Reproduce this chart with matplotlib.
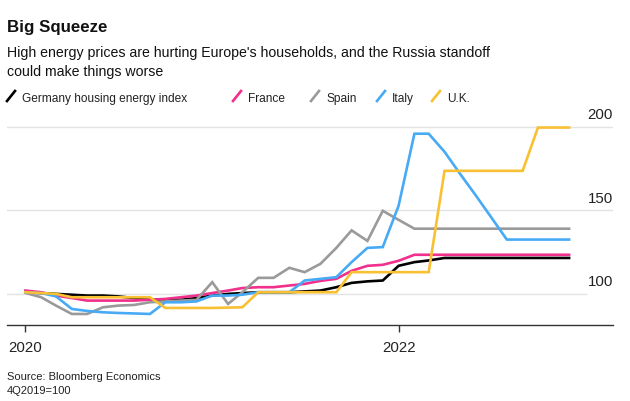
import pandas as pd
import matplotlib
matplotlib.use("Agg")
import matplotlib.pyplot as plt
from matplotlib.lines import Line2D

plt.rcParams['font.family'] = ['Liberation Sans', 'DejaVu Sans']

# Monthly index values, Jan 2020 - Dec 2022 (4Q2019=100)
months = pd.date_range("2020-01-01", periods=36, freq="MS")

germany = [101, 100.5, 100, 99.5, 99, 99, 98.5, 97.5, 96.5, 96.5, 96.5, 97.5,
           99, 100, 100.5, 101, 101, 101, 101.5, 102, 104, 106.6, 107.5, 108,
           116.8, 119, 120, 121.5, 121.5, 121.5, 121.5, 121.5, 121.5, 121.5, 121.5, 121.5]
france = [102, 101, 99, 97.5, 96, 96, 96, 96, 96.5, 97, 98, 99,
          100.5, 102, 103.5, 104, 104, 105, 106, 107.8, 109, 113.8, 116.8, 117.4,
          119.8, 123.4, 123.4, 123.4, 123.4, 123.4, 123.4, 123.4, 123.4, 123.4, 123.4, 123.4]
spain = [100.6, 98, 93, 88, 88, 92, 93, 93.4, 95, 95.5, 96, 96.4,
         107, 94, 101, 109.6, 109.6, 115.6, 113, 118, 127.5, 138, 131.7, 149.7,
         144.3, 139, 139, 139, 139, 139, 139, 139, 139, 139, 139, 139]
italy = [101, 100.5, 98.5, 91, 89.8, 89, 88.6, 88.3, 88, 95, 95, 95.5,
         99, 99, 99.5, 101, 101, 101, 108, 109, 110, 119, 127.5, 128,
         152.7, 195.8, 195.8, 185, 172, 159, 146, 132.5, 132.5, 132.5, 132.5, 132.5]
uk = [101, 100.5, 100, 98, 98, 98, 98, 98, 98, 91.6, 91.6, 91.6,
      91.6, 91.8, 92, 101, 101, 101, 101, 101, 101, 113, 113, 113,
      113, 113, 113, 173.6, 173.6, 173.6, 173.6, 173.6, 173.6, 199.5, 199.5, 199.5]

series_names = ["Germany housing energy index", "France", "Spain", "Italy", "U.K."]
series_colors = ["#000000", "#f0308c", "#9a9a9a", "#47aaf5", "#f9c033"]
series_values = [germany, france, spain, italy, uk]

W, H = 630, 402
fig = plt.figure(figsize=(W / 100, H / 100), dpi=100)


def fx(px):
    return px / W


def fy(py):
    return 1 - py / H


ax = fig.add_axes([fx(7), fy(326), fx(613) - fx(7), fy(116) - fy(326)])

for vals, col in zip(series_values, series_colors):
    ax.plot(months, vals, color=col, lw=1.9, solid_joinstyle="miter", zorder=3)

x0 = pd.Timestamp("2019-12-01") - pd.Timedelta(days=5)
x1 = pd.Timestamp("2023-02-25")
ax.set_xlim(x0, x1)
ax.set_ylim(81.4, 207)

# gridlines
ax.axhline(200, color="#e2e2e2", lw=1, zorder=1)
ax.axhline(150, color="#e2e2e2", lw=1, zorder=1)
ax.axhline(100, color="#e2e2e2", lw=1, xmax=(586 - 7) / (613 - 7), zorder=1)

for v in [100, 150, 200]:
    ax.text(1.0, v + 5.2, str(v), transform=ax.get_yaxis_transform(),
            ha="right", va="baseline", fontsize=10.8, color="#222222")

for s in ["top", "left", "right"]:
    ax.spines[s].set_visible(False)
ax.spines["bottom"].set_color("#333333")
ax.spines["bottom"].set_linewidth(1.0)
ax.set_yticks([])
ax.set_xticks([pd.Timestamp("2020-01-01"), pd.Timestamp("2022-01-01")])
ax.set_xticklabels(["2020", "2022"])
ax.tick_params(axis="x", length=5, width=1, color="#333333", pad=6,
               labelsize=10.8, labelcolor="#222222")

# title and subtitle
fig.text(fx(7), fy(32), "Big Squeeze", fontsize=12.2, fontweight="bold",
         va="baseline", ha="left", color="#111111")
fig.text(fx(7), fy(57), "High energy prices are hurting Europe's households, and the Russia standoff",
         fontsize=10.2, va="baseline", ha="left", color="#111111")
fig.text(fx(7), fy(76), "could make things worse",
         fontsize=10.2, va="baseline", ha="left", color="#111111")

# legend
legend_x = [7, 233, 311, 377, 432]
for name, col, lx in zip(series_names, series_colors, legend_x):
    fig.add_artist(Line2D([fx(lx), fx(lx + 8)], [fy(102), fy(92)], color=col, lw=1.9))
    fig.text(fx(lx + 15), fy(102), name, fontsize=8.6, va="baseline", ha="left", color="#222222")

# footer
fig.text(fx(7), fy(380), "Source: Bloomberg Economics", fontsize=8.0, va="baseline", ha="left", color="#222222")
fig.text(fx(7), fy(394), "4Q2019=100", fontsize=8.0, va="baseline", ha="left", color="#222222")

fig.savefig("out.png", dpi=100)
